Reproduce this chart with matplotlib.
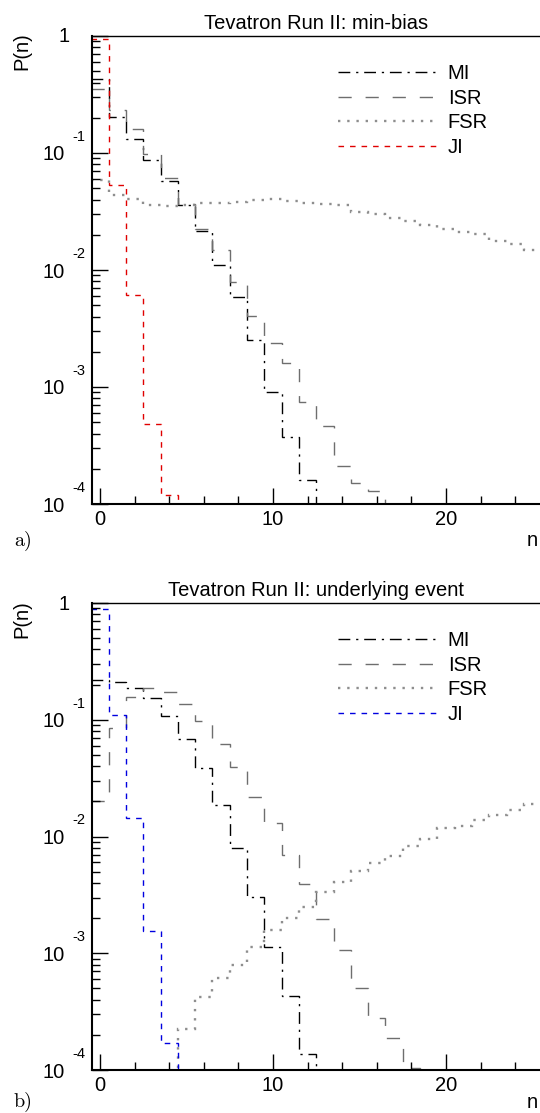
import numpy as np
import matplotlib.pyplot as plt
from matplotlib.ticker import MultipleLocator, LogLocator, NullFormatter
from matplotlib.transforms import offset_copy

plt.rcParams['font.family'] = ['Liberation Sans', 'DejaVu Sans']

# P(n) per bin, n = 0, 1, 2, ...  (0 = below the plotted range)
# a) min-bias
mi_a = [0.433, 0.203, 0.132, 0.087, 0.0576, 0.036, 0.0216, 0.011, 0.0059,
        0.00252, 9.1e-4, 3.76e-4, 1.6e-4, 0]
isr_a = [0.352, 0.233, 0.160, 0.098, 0.0616, 0.0366, 0.0224, 0.0148, 0.0079,
         0.00404, 0.00238, 0.0016, 7.5e-4, 4.6e-4, 2.1e-4, 1.5e-4, 1.3e-4, 0]
fsr_a = [0.0588, 0.0438, 0.0402, 0.036, 0.0352, 0.036, 0.0374, 0.0377, 0.038,
         0.0396, 0.0408, 0.0386, 0.0376, 0.0369, 0.0356, 0.0313, 0.0301,
         0.0280, 0.0262, 0.0243, 0.0224, 0.0211, 0.0203, 0.0177, 0.0167,
         0.0148, 0.0140]
ji_a = [0.94, 0.053, 0.0061, 4.8e-4, 1.2e-4, 0]

# b) underlying event
mi_b = [0.219, 0.212, 0.187, 0.154, 0.108, 0.0684, 0.0386, 0.0186, 0.0079,
        0.00305, 0.00114, 4.3e-4, 1.37e-4, 0]
isr_b = [0.020, 0.085, 0.157, 0.187, 0.172, 0.136, 0.097, 0.0623, 0.0396,
         0.0219, 0.013, 0.0069, 0.0039, 0.00195, 0.00107, 5.0e-4, 2.8e-4,
         1.87e-4, 1.05e-4, 0]
fsr_b = [0, 0, 0, 0, 0, 2.25e-4, 4.25e-4, 6.1e-4, 7.9e-4, 1.14e-3, 1.59e-3,
         2.0e-3, 2.5e-3, 3.37e-3, 4.05e-3, 5.06e-3, 5.97e-3, 6.85e-3, 8.3e-3,
         9.5e-3, 0.0119, 0.0123, 0.0139, 0.0153, 0.017, 0.019, 0.020]
ji_b = [0.89, 0.11, 0.0143, 0.00155, 1.71e-4, 0]

labels = ['MI', 'ISR', 'FSR', 'JI']
titles = ['Tevatron Run II: min-bias', 'Tevatron Run II: underlying event']
decades = [1e-4, 1e-3, 1e-2, 1e-1, 1]

styles = {
    'MI': dict(color='black', lw=1.0, ls=(0, (8.5, 4.2, 1.6, 4.2))),
    'ISR': dict(color='#6e6e6e', lw=1.0, ls=(0, (9.5, 10))),
    'FSR': dict(color='#8e8e8e', lw=1.7, ls=(0, (1, 2.9))),
}

fig = plt.figure(figsize=(5.4, 11.13), dpi=100)
W, H = 540, 1113


def panel(rect, data, ji_color, title, tag, ytop_px, nlab_px):
    ax = fig.add_axes(rect)
    ax.set_yscale('log')
    handles = []
    for name, vals in zip(labels, data):
        vals = np.asarray(vals, dtype=float)
        edges = np.arange(len(vals) + 1) - 0.5
        st = styles.get(name, dict(color=ji_color, lw=1.0, ls=(0, (4, 4.3))))
        ax.stairs(vals, edges, baseline=None, color=st['color'], lw=st['lw'],
                  linestyle=st['ls'])
        handles.append(plt.Line2D([], [], color=st['color'], lw=st['lw'],
                                  linestyle=st['ls']))
    ax.set_xlim(-0.46, 25.43)
    ax.set_ylim(1e-4, 1)

    ax.xaxis.set_major_locator(MultipleLocator(10))
    ax.xaxis.set_minor_locator(MultipleLocator(2))
    ax.yaxis.set_major_locator(LogLocator(base=10, numticks=10))
    ax.yaxis.set_minor_locator(LogLocator(base=10, subs=np.arange(2, 10),
                                          numticks=10))
    ax.yaxis.set_major_formatter(NullFormatter())
    ax.yaxis.set_minor_formatter(NullFormatter())
    ax.tick_params(which='both', direction='in', top=False, right=False,
                   width=1.0)
    ax.tick_params(which='major', length=11.5, labelsize=14.5, pad=4)
    ax.tick_params(which='minor', length=5.5)
    ax.spines['right'].set_visible(False)
    ax.spines['left'].set_linewidth(1.5)
    ax.spines['bottom'].set_linewidth(1.5)
    ax.spines['top'].set_linewidth(1.0)

    # ROOT style decade labels
    ytr = ax.get_yaxis_transform()
    for v in decades:
        if v == 1:
            ax.text(0, v, '1', fontsize=14.5, ha='right', va='center',
                    transform=offset_copy(ytr, fig, x=-22, y=-1, units='dots'))
        else:
            ax.text(0, v, '10', fontsize=14.5, ha='right', va='center',
                    transform=offset_copy(ytr, fig, x=-27, y=-2, units='dots'))
            ax.text(0, v, '-%d' % round(-np.log10(v)), fontsize=10.5,
                    ha='left', va='center',
                    transform=offset_copy(ytr, fig, x=-20, y=16, units='dots'))

    ax.set_title(title, fontsize=14.5, pad=5)
    ax.legend(handles, labels, loc='upper left', frameon=False,
              bbox_to_anchor=(0.549, 0.94), borderpad=0, borderaxespad=0,
              handlelength=4.85, handletextpad=0.6, labelspacing=0.28,
              fontsize=14.5)

    fig.text(22 / W, 1 - ytop_px / H, 'P(n)', fontsize=14.5, rotation=90,
             ha='center', va='top')
    fig.text(538 / W, 1 - nlab_px / H, 'n', fontsize=14.5, ha='right',
             va='center')
    fig.text(23 / W, 1 - nlab_px / H, tag, fontsize=14.5, ha='center',
             va='center', family='cmr10')
    return ax


panel([92 / W, 1 - 504 / H, 448 / W, 468 / H], [mi_a, isr_a, fsr_a, ji_a],
      '#e00000', titles[0], 'a)', 32, 541)
panel([92 / W, 1 - 1070 / H, 448 / W, 467 / H], [mi_b, isr_b, fsr_b, ji_b],
      '#0000e0', titles[1], 'b)', 600, 1102)

fig.savefig('out.png', dpi=100)
